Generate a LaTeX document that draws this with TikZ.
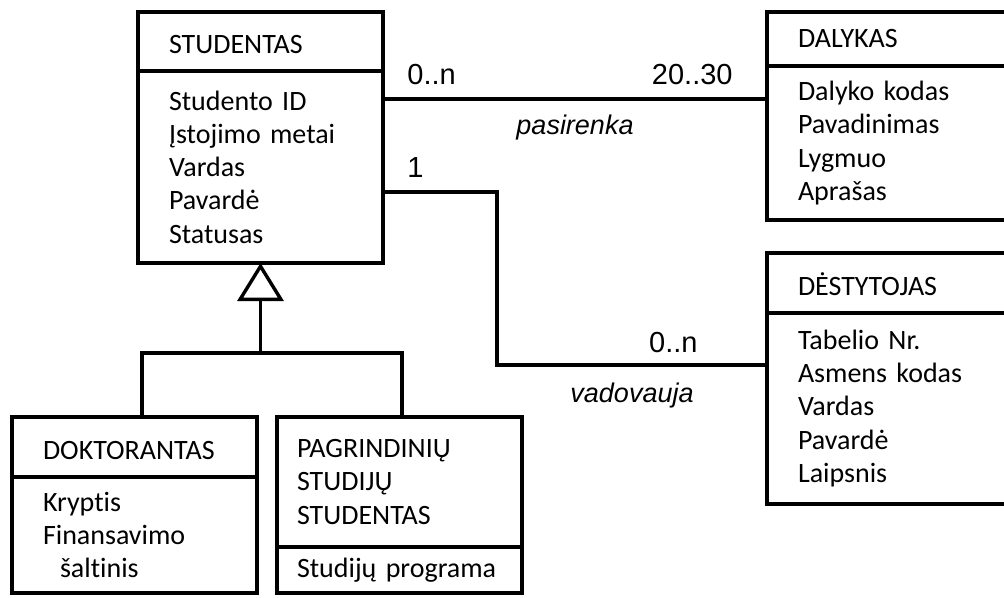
\documentclass[tikz,border=0pt]{standalone}
\usepackage{fontspec}
\setmainfont{Carlito}[Ligatures=NoCommon, WordSpace=0.7]
\newfontfamily\arialfont{Liberation Sans}
\usetikzlibrary{positioning, arrows.meta}

\tikzset{
  cls/.style={draw, line width=1.7pt, anchor=north west, inner xsep=15.5pt, inner ysep=0pt,
    outer sep=0pt, align=left, text width=91.5pt, font=\fontsize{14}{16.6}\selectfont},
  low/.style={text height=12.5pt, text depth=0pt},
  mult/.style={font=\arialfont\fontsize{14.5}{17}\selectfont, inner sep=0pt},
  role/.style={font=\arialfont\itshape\fontsize{13.5}{16}\selectfont, inner sep=0pt},
  link/.style={line width=1.7pt},
  gen/.style={line width=1.7pt, -{Triangle[open, length=19pt, width=23pt]}},
}

\begin{document}
\begin{tikzpicture}[x=0.5pt, y=-0.5pt]
  \useasboundingbox (0,0) rectangle (1004,598);
  \clip (0,0) rectangle (1004,598);

  % classes: header + attributes
  \node[cls, low, minimum height=29.5pt] (studH) at (138,12) {STUDENTAS};
  \node[cls, minimum height=96pt, below=0pt of studH] (studB) {Studento ID\\Įstojimo metai\\Vardas\\Pavardė\\Statusas};

  \node[cls, minimum height=27pt] (dalH) at (767,12) {DALYKAS};
  \node[cls, minimum height=77pt, below=0pt of dalH] (dalB) {Dalyko kodas\\Pavadinimas\\Lygmuo\\Aprašas};

  \node[cls, low, minimum height=30pt] (destH) at (767,253) {DĖSTYTOJAS};
  \node[cls, minimum height=95.5pt, below=0pt of destH] (destB) {Tabelio Nr.\\Asmens kodas\\Vardas\\Pavardė\\Laipsnis};

  \node[cls, low, minimum height=30pt] (doktH) at (12,417) {DOKTORANTAS};
  \node[cls, minimum height=58pt, below=0pt of doktH] (doktB) {Kryptis\\Finansavimo\\\hspace*{8.5pt}šaltinis};

  \node[cls, inner xsep=10pt, text width=102.5pt, minimum height=65pt] (pagrH) at (277,417) {PAGRINDINIŲ\\STUDIJŲ\\STUDENTAS};
  \node[cls, inner xsep=10pt, text width=102.5pt, minimum height=23pt, below=0pt of pagrH] (pagrB) {Studijų programa};

  % pasirenka
  \coordinate (pasL) at ([yshift=-14pt]studB.north east);
  \coordinate (pasR) at (pasL -| dalB.west);
  \draw[link] (pasL) -- node[role, midway, anchor=base, yshift=-18pt] (pasRole) {pasirenka} (pasR);
  \node[mult, anchor=base west] (pasM1) at ([xshift=12pt, yshift=7pt]pasL) {0..n};
  \node[mult, anchor=base east] (pasM2) at ([xshift=-17pt, yshift=7pt]pasR) {20..30};

  % vadovauja
  \coordinate (vadL) at ([yshift=-60.5pt]studB.north east);
  \coordinate (vadR) at ([yshift=-26pt]destB.north west);
  \draw[link] (vadL) -- ++(114,0) |- node[role, pos=0.75, anchor=base, yshift=-18.5pt] (vadRole) {vadovauja} (vadR);
  \node[mult, anchor=base west] (vadM1) at ([xshift=12pt, yshift=7pt]vadL) {1};
  \node[mult, anchor=base east] (vadM2) at ([xshift=-34.5pt, yshift=6.5pt]vadR) {0..n};

  % generalization
  \coordinate (genJ) at ([yshift=-45pt]studB.south);
  \draw[link] ([xshift=3.75pt]doktH.north) |- (genJ) -| ([xshift=1.25pt]pagrH.north);
  \draw[gen] (genJ) -- (studB.south);
\end{tikzpicture}
\end{document}
